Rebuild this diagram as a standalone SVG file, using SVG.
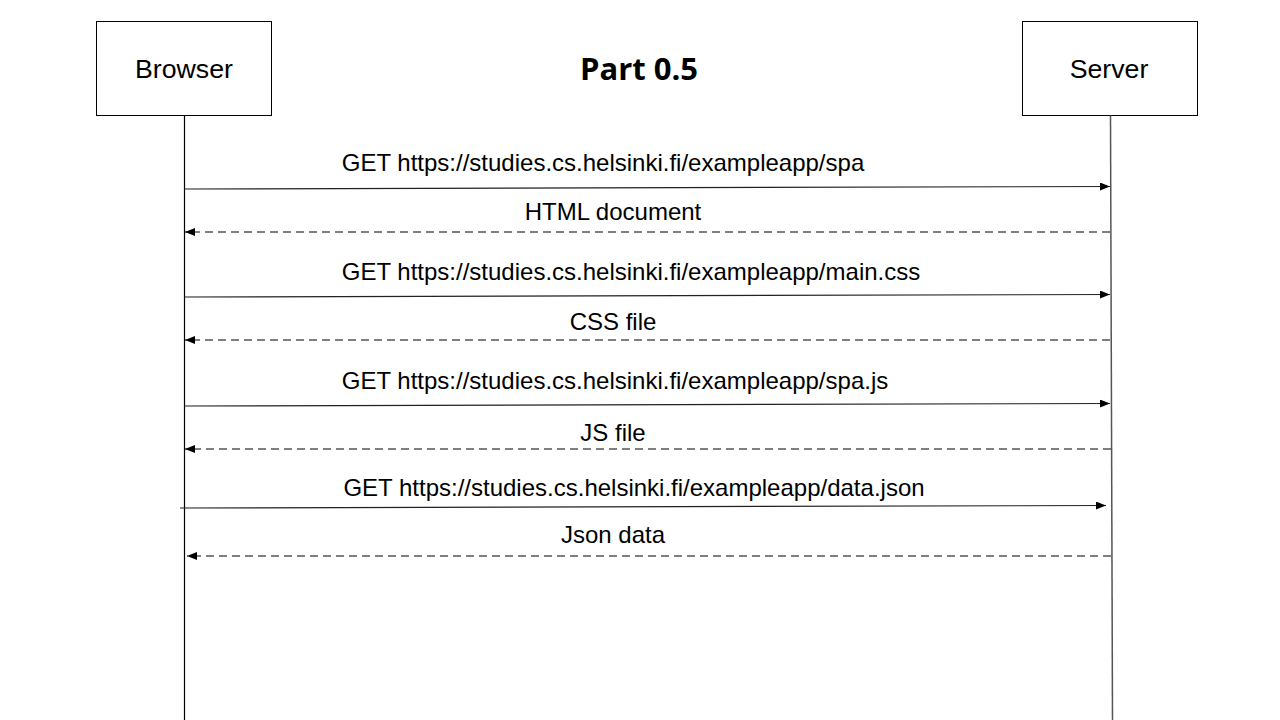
<svg xmlns="http://www.w3.org/2000/svg" width="1280" height="720" viewBox="0 0 1280 720">
<defs>
<marker id="ah" viewBox="0 0 10 8" refX="10" refY="4" markerWidth="10" markerHeight="8" markerUnits="userSpaceOnUse" orient="auto">
<path d="M0,0 L10,4 L0,8 Z" fill="#000"/>
</marker>
</defs>
<style>
.box{fill:#fff;stroke:#000;stroke-width:1}
.name{font-family:"Liberation Sans",Arial,sans-serif;font-size:26.7px;fill:#000;text-anchor:middle}
.title{font-family:"Open Sans","Liberation Sans",sans-serif;font-weight:700;font-size:31px;fill:#000;text-anchor:middle}
.lbl{font-family:"Liberation Sans",Arial,sans-serif;font-size:24px;fill:#000;text-anchor:middle}
.life{stroke:#000;stroke-width:1.2;fill:none}
.life2{stroke:#555;stroke-width:1.5;fill:none}
.msg{stroke:#222;stroke-width:1.2;fill:none;marker-end:url(#ah)}
.ret{stroke:#000;stroke-width:1.2;fill:none;stroke-dasharray:8 5;marker-end:url(#ah)}
</style>
<rect width="1280" height="720" fill="#fff"/>
<text class="title" x="639" y="80">Part 0.5</text>
<g id="browser">
<rect class="box" x="96.5" y="21.5" width="175" height="94"/>
<text class="name" x="184" y="78">Browser</text>
<line class="life" x1="184.5" y1="115.5" x2="184.5" y2="720"/>
</g>
<g id="server">
<rect class="box" x="1022.5" y="21.5" width="175" height="94"/>
<text class="name" x="1109" y="78">Server</text>
<line class="life2" x1="1110.5" y1="115.5" x2="1112.5" y2="720"/>
</g>
<g id="connectors">
<line class="msg" x1="184" y1="189" x2="1110" y2="186.5"/>
<line class="ret" x1="1110" y1="232" x2="185" y2="232"/>
<line class="msg" x1="184" y1="297" x2="1110" y2="294.5"/>
<line class="ret" x1="1110" y1="340" x2="185" y2="340"/>
<line class="msg" x1="184" y1="406" x2="1110" y2="403.5"/>
<line class="ret" x1="1111" y1="449" x2="185" y2="449"/>
<line class="msg" x1="180" y1="508" x2="1106" y2="505.5"/>
<line class="ret" x1="1111" y1="556" x2="187" y2="556"/>
</g>
<g id="labels">
<text class="lbl" x="603" y="171">GET https://studies.cs.helsinki.fi/exampleapp/spa</text>
<text class="lbl" x="613" y="220">HTML document</text>
<text class="lbl" x="631" y="280">GET https://studies.cs.helsinki.fi/exampleapp/main.css</text>
<text class="lbl" x="613" y="330">CSS file</text>
<text class="lbl" x="615" y="389">GET https://studies.cs.helsinki.fi/exampleapp/spa.js</text>
<text class="lbl" x="613" y="441">JS file</text>
<text class="lbl" x="634" y="496">GET https://studies.cs.helsinki.fi/exampleapp/data.json</text>
<text class="lbl" x="613" y="543">Json data</text>
</g>
</svg>
